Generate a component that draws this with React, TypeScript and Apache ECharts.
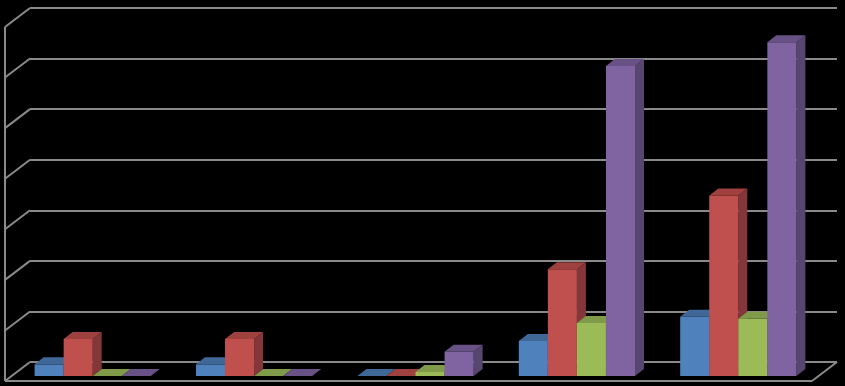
import React, { useEffect, useRef } from "react";
import * as echarts from "echarts";

const categories = ["1", "2", "3", "4", "5"];
const seriesNames = ["Series 1", "Series 2", "Series 3", "Series 4"];
const blueValues = [0.23, 0.23, 0, 0.69, 1.17];
const redValues = [0.73, 0.73, 0, 2.11, 3.57];
const greenValues = [0, 0, 0.08, 1.05, 1.13];
const purpleValues = [0, 0, 0.48, 6.13, 6.6];
const tickValues = [0, 1, 2, 3, 4, 5, 6, 7];

const seriesValues = [blueValues, redValues, greenValues, purpleValues];
const frontColors = ["#4F81BD", "#C0504D", "#9BBB59", "#8064A2"];
const topColors = ["#3F6899", "#9E413F", "#7F9A49", "#685285"];
const sideColors = ["#35577F", "#83373A", "#6A803C", "#57466F"];

const GRID_COLOR = "#8A8A8A";
const WALL_DX = 25;
const WALL_DY = 19;
const BAR_SHIFT_X = -18;
const BAR_SHIFT_Y = 14;
const BAR_DX = 9;
const BAR_DY = 7;

export default function App() {
  const ref = useRef<HTMLDivElement>(null);
  useEffect(() => {
    if (!ref.current) return;
    const chart = echarts.init(ref.current, null, { renderer: "svg" });

    const wallSeries: any = {
      type: "custom",
      name: "walls",
      silent: true,
      clip: false,
      z: 1,
      data: tickValues.map((v) => [0, v]),
      renderItem: (params: any, api: any) => {
        const v = api.value(1);
        const cs = params.coordSys;
        const y = api.coord([0, v])[1];
        const x = cs.x;
        const lineStyle = { stroke: GRID_COLOR, lineWidth: 2 };
        const children: any[] = [
          {
            type: "line",
            shape: { x1: x, y1: y, x2: x - WALL_DX, y2: y + WALL_DY },
            style: lineStyle,
          },
        ];
        if (v === tickValues[0]) {
          const right = cs.x + cs.width;
          children.push({
            type: "line",
            shape: { x1: x - WALL_DX, y1: y + WALL_DY, x2: right - WALL_DX, y2: y + WALL_DY },
            style: lineStyle,
          });
          children.push({
            type: "line",
            shape: { x1: right - WALL_DX, y1: y + WALL_DY, x2: right, y2: y },
            style: lineStyle,
          });
        }
        if (v === tickValues[tickValues.length - 1]) {
          const yb = api.coord([0, tickValues[0]])[1];
          children.push({
            type: "line",
            shape: { x1: x - WALL_DX, y1: y + WALL_DY, x2: x - WALL_DX, y2: yb + WALL_DY },
            style: lineStyle,
          });
        }
        return { type: "group", children };
      },
    };

    const barSeries = seriesValues.map((vals, si) => ({
      type: "custom",
      name: seriesNames[si],
      clip: false,
      z: 2,
      data: vals.map((v, i) => [i, v]),
      renderItem: (params: any, api: any) => {
        const cat = api.value(0);
        const val = api.value(1);
        const topPt = api.coord([cat, val]);
        const basePt = api.coord([cat, 0]);
        const bandW = api.size([1, 0])[0];
        const barW = bandW * 0.18;
        const groupW = barW * 4;
        const x0 = basePt[0] - groupW / 2 + si * barW + BAR_SHIFT_X;
        const x1 = x0 + barW;
        const yT = topPt[1] + BAR_SHIFT_Y;
        const yB = basePt[1] + BAR_SHIFT_Y;
        const children: any[] = [];
        if (yB - yT > 0.5) {
          children.push({
            type: "polygon",
            shape: { points: [[x1, yT], [x1 + BAR_DX, yT - BAR_DY], [x1 + BAR_DX, yB - BAR_DY], [x1, yB]] },
            style: { fill: sideColors[si] },
          });
          children.push({
            type: "rect",
            shape: { x: x0, y: yT, width: barW, height: yB - yT },
            style: { fill: frontColors[si] },
          });
        }
        children.push({
          type: "polygon",
          shape: { points: [[x0, yT], [x0 + BAR_DX, yT - BAR_DY], [x1 + BAR_DX, yT - BAR_DY], [x1, yT]] },
          style: { fill: topColors[si] },
        });
        return { type: "group", children };
      },
    }));

    chart.setOption({
      animation: false,
      backgroundColor: "#000000",
      grid: { left: 30, right: 8, top: 8, bottom: 24, containLabel: false },
      xAxis: {
        type: "category",
        data: categories,
        axisLine: { show: false },
        axisTick: { show: false },
        axisLabel: { show: false },
        splitLine: { show: false },
      },
      yAxis: {
        type: "value",
        min: 0,
        max: 7,
        interval: 1,
        axisLine: { show: false },
        axisTick: { show: false },
        axisLabel: { show: false },
        splitLine: { show: true, lineStyle: { color: GRID_COLOR, width: 2 } },
      },
      series: [wallSeries, ...barSeries],
    });
    return () => chart.dispose();
  }, []);
  return (
    <div
      ref={ref}
      style={{ position: "fixed", left: 0, top: 0, width: 845, height: 386, background: "#000" }}
    />
  );
}
